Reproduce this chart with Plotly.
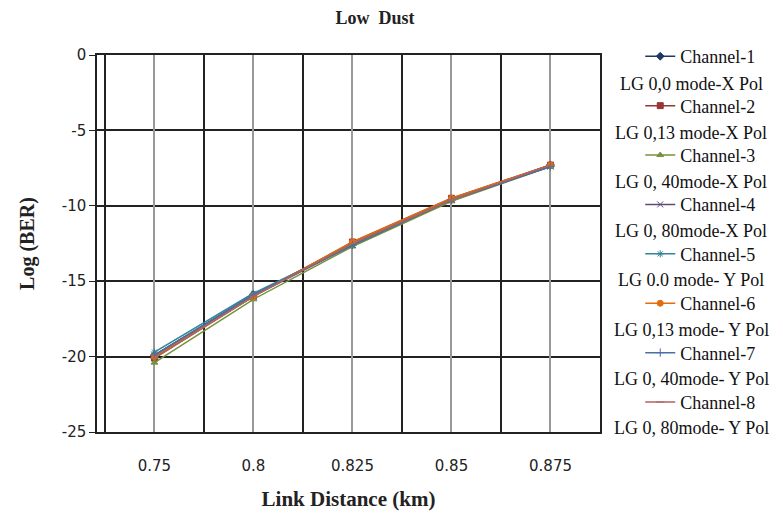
import plotly.graph_objects as go

categories = ["0.75", "0.8", "0.825", "0.85", "0.875"]

channel_names = ["Channel-1", "Channel-2", "Channel-3", "Channel-4",
                 "Channel-5", "Channel-6", "Channel-7", "Channel-8"]
mode_labels = ["LG 0,0 mode-X Pol", "LG 0,13 mode-X Pol", "LG 0, 40mode-X Pol",
               "LG 0, 80mode-X Pol", "LG 0.0 mode- Y Pol", "LG 0,13 mode- Y Pol",
               "LG 0, 40mode- Y Pol", "LG 0, 80mode- Y Pol"]

ch1 = [-19.9, -15.9, -12.5, -9.6, -7.3]
ch2 = [-20.1, -16.0, -12.4, -9.5, -7.3]
ch3 = [-20.4, -16.2, -12.7, -9.7, -7.4]
ch4 = [-20.0, -16.0, -12.6, -9.6, -7.4]
ch5 = [-19.7, -15.8, -12.6, -9.6, -7.4]
ch6 = [-20.0, -16.0, -12.4, -9.5, -7.3]
ch7 = [-19.9, -15.9, -12.6, -9.6, -7.4]
ch8 = [-20.1, -16.0, -12.5, -9.6, -7.3]
series = [ch1, ch2, ch3, ch4, ch5, ch6, ch7, ch8]

y_ticks = [0, -5, -10, -15, -20, -25]
y_tick_labels = ["0", "-5", "-10", "-15", "-20", "-25"]

colors = ["#1F3864", "#953735", "#76923C", "#5F497A",
          "#31849B", "#E46C0A", "#4A6FA5", "#B0645E"]
symbols = ["diamond", "square", "triangle-up", "x-thin",
           "asterisk", "circle", "cross-thin", "line-ew"]

fig = go.Figure()
for i, (name, vals) in enumerate(zip(channel_names, series)):
    fig.add_trace(go.Scatter(
        x=categories, y=vals, name=name, mode="lines+markers",
        legendgroup=name,
        line=dict(color=colors[i], width=1.5),
        marker=dict(symbol=symbols[i], size=6, color=colors[i],
                    line=dict(color=colors[i], width=1)),
    ))

# invisible trace on overlay axis to show the center gridlines
fig.add_trace(go.Scatter(x=categories, y=[None]*len(categories), xaxis="x2",
                         showlegend=False, hoverinfo="skip"))

serif = "Liberation Serif, Times New Roman, serif"
sans = "DejaVu Sans, Verdana, sans-serif"

# page has an 8px body margin; figure sized to fit the window
OFF = 8
W, H = 783 - OFF, 519 - OFF
ML, MT, MR, MB = 97 - OFF, 55 - OFF, 783 - 600, 519 - 432
plot_h = H - MT - MB

fig.update_layout(
    width=W, height=H,
    paper_bgcolor="white", plot_bgcolor="white",
    margin=dict(l=ML, r=MR, t=MT, b=MB, autoexpand=False),
    title=dict(text="<b>Low  Dust</b>", x=(375 - OFF) / W, xanchor="center",
               y=1 - (18 - OFF) / H, yanchor="middle",
               font=dict(family=serif, size=18, color="#222")),
    xaxis=dict(type="category", categoryarray=categories, range=[-0.58, 4.5],
               tickson="boundaries", showgrid=True, gridcolor="#222", gridwidth=1.5,
               ticks="", showline=True, linecolor="#222", linewidth=1.5, mirror=True,
               ticklabelstandoff=19,
               tickfont=dict(family=sans, size=15, color="#222"),
               title=dict(text="<b>Link Distance (km)</b>", standoff=18,
                          font=dict(family=serif, size=21, color="#222")),
               zeroline=False),
    xaxis2=dict(type="category", categoryarray=categories, range=[-0.58, 4.5],
                overlaying="x", showgrid=True, gridcolor="#999", gridwidth=1.5,
                showticklabels=False, ticks="", layer="below traces"),
    yaxis=dict(range=[-25, 0], tickvals=y_ticks, ticktext=y_tick_labels,
               showgrid=True, gridcolor="#222",
               gridwidth=1.5, ticks="outside", ticklen=6, tickcolor="#222",
               showline=True, linecolor="#222", linewidth=1.5, mirror=True,
               zeroline=False,
               tickfont=dict(family=sans, size=15, color="#222"),
               title=dict(text="<b>Log (BER)</b>", standoff=22,
                          font=dict(family=serif, size=20, color="#222"))),
    legend=dict(x=1.08, xanchor="left", y=1.045, yanchor="top",
                font=dict(family=serif, size=18, color="#111"),
                tracegroupgap=23, bgcolor="rgba(0,0,0,0)", itemwidth=30,
                maxheight=600),
    showlegend=True,
)

# second line of each legend entry (positions given in page pixels)
for i, lab in enumerate(mode_labels):
    y_px = 56 + 28 + i * 49.1
    fig.add_annotation(text=lab, xref="paper", yref="paper",
                       x=(691 - 97) / (600 - 97), y=1 - (y_px - 55) / plot_h,
                       xanchor="center", yanchor="middle", showarrow=False,
                       font=dict(family=serif, size=18, color="#111"))

fig.write_html("out.html")
